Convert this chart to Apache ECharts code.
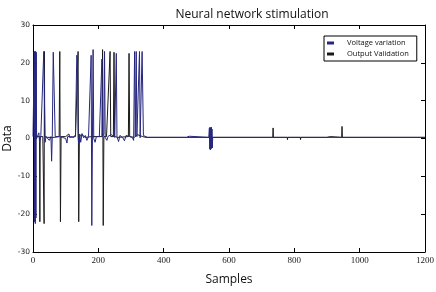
<!DOCTYPE html>
<html>
<head>
<meta charset="utf-8">
<script src="https://cdn.jsdelivr.net/npm/echarts@6/dist/echarts.min.js"></script>
<style>
  html, body { margin: 0; padding: 0; background: #fff; }
  #chart { width: 436px; height: 292px; }
</style>
</head>
<body>
<div id="chart"></div>
<script>
// samples / values
const voltageX = [0, 4, 5, 6, 7, 8, 9, 10, 11, 14, 18, 20, 24, 28, 33, 35, 37, 40, 45, 50, 55, 57, 59, 62, 64, 66, 68,
  72, 80, 90, 95, 100, 104, 106, 115, 120, 125, 130, 134, 136, 138, 140, 143, 146, 150, 155, 160, 165, 170, 174,
  178, 180, 182, 184, 186, 190, 194, 198, 203, 208, 211, 213, 217, 219, 221, 226, 230, 234, 240, 244, 250, 255, 257,
  262, 266, 270, 275, 280, 285, 290, 296, 300, 304, 308, 311, 313, 316, 318, 322, 326, 328, 331, 334, 336, 338, 342,
  350, 400, 470, 478, 483, 538, 540, 541, 542, 543, 544, 545, 546, 547, 548, 549, 550, 600, 800, 1000, 1200];
const voltageY = [0.5, 23, -22, 23, -22.5, 23, -21, 22.8, 0, 0.5, 1.5, -1, 0.8, 1.2, 23, 22.8, -1, 0.5, 0.3, -0.5, 0.5, -6, 0.5, 22.8, 23.2, 22.5, 0.5,
  0.2, 0.5, 0.3, 0.5, 0, -1.2, 0.5, 0.5, 0.8, 0.3, 1, 22, 21, 0.5, -1.5, 1.2, -1, 1.3, 0.2, 0.8, -0.5, 0.6, 0.2,
  22, -23, 0.5, 23.5, 0, -1, 0.5, 1, 0.5, 0.8, 21, 0.5, 1.2, 23, 0.3, -0.5, 0.6, 0.2, 1, 0.5, 0.3, 22.5, 0.5,
  -0.8, 0.8, 1, 0.2, -0.6, 0.8, 0.4, 0.5, 1, 0.3, -0.5, 23, 0.5, 23, 0.5, 1, 23, 0.2, 0.6, 23, 22.5, 0.8, 0.3,
  0.3, 0.3, 0.3, 0.6, 0.3, 0.3, 2.8, -2.8, 3, -3, 2.8, -2.8, 3, -2.5, 2.5, -2.5, 0.3, 0.3, 0.3, 0.3, 0.3];

const outputX = [0, 10, 20, 21, 22, 30, 34, 35, 36, 45, 55, 60, 65, 80, 82, 84, 86, 100, 110, 112, 130, 138, 140, 142,
  150, 160, 180, 211, 213, 215, 217, 225, 236, 238, 246, 248, 250, 260, 292, 294, 296, 310, 320, 336, 345,
  734, 735, 736, 778, 779, 780, 818, 819, 820, 900, 910, 915, 945, 946, 947, 1120, 1122, 1124, 1200];
const outputY = [0.3, 0.5, 0.5, -22, 0.5, 0.5, -22.5, 23, 0.5, 0.3, 0.3, 0.5, 0.3, 0.5, 23, -22, 0.5, 0.5, 1.2, 0.3, 0.5, 23, -22, 0.5,
  1, 0.3, 0.5, 0.5, 23.5, -23, 0.5, 0.5, 23, 0.5, 0.5, 22.8, 0.5, 0.3, 0.5, 22.5, 0.5, 0.3, 1, 0.5, 0.3,
  0.3, 2.8, 0.3, 0.3, -0.3, 0.3, 0.3, -0.3, 0.3, 0.3, 0.5, 0.3, 0.3, 3.2, 0.3, 0.3, 0.8, 0.3, 0.3];

const xTicks = { min: 0, max: 1200, interval: 200 };
const yTicks = { min: -30, max: 30, interval: 10 };

const BLUE = '#26267f';
const BLACK = '#1a1a1a';

const chart = echarts.init(document.getElementById('chart'));

const pairs = (xs, ys) => xs.map((x, i) => [x, ys[i]]);

const edgeAxis = {
  axisLine: { show: true, onZero: false, lineStyle: { color: '#000', width: 1 } },
  axisTick: { show: true, inside: true, length: 4, lineStyle: { color: '#000' } },
  splitLine: { show: false },
};

chart.setOption({
  animation: false,
  title: {
    text: 'Neural network stimulation',
    left: 247,
    textAlign: 'center',
    top: 4,
    textStyle: { fontFamily: 'Open Sans', fontSize: 12, fontWeight: 'normal', color: '#111' },
  },
  grid: { left: 33, right: 11, top: 25, bottom: 40, outerBoundsMode: 'none' },
  legend: {
    left: 324,
    top: 36,
    orient: 'vertical',
    icon: 'rect',
    itemWidth: 7,
    itemHeight: 3,
    itemGap: 3,
    padding: [3, 8, 3, 3],
    borderColor: '#000',
    borderWidth: 1,
    backgroundColor: '#fff',
    textStyle: { fontFamily: 'Open Sans', fontSize: 7.5, color: '#111', padding: [0, 0, 0, 8] },
    data: ['Voltage variation', 'Output Validation'],
  },
  xAxis: [
    {
      type: 'value', ...xTicks, ...edgeAxis,
      name: 'Samples', nameLocation: 'middle', nameGap: 22, nameMoveOverlap: false,
      nameTextStyle: { fontFamily: 'Open Sans', fontSize: 12, color: '#111' },
      axisLabel: { fontFamily: 'Liberation Serif', fontSize: 9, color: '#222', margin: 4, formatter: v => String(v) },
    },
    { type: 'value', position: 'top', ...xTicks, ...edgeAxis, axisLabel: { show: false } },
  ],
  yAxis: [
    {
      type: 'value', ...yTicks, ...edgeAxis,
      name: 'Data', nameLocation: 'middle', nameGap: 19, nameMoveOverlap: false,
      nameTextStyle: { fontFamily: 'Open Sans', fontSize: 12, color: '#111' },
      axisLabel: { fontFamily: 'DejaVu Sans', fontSize: 7.5, color: '#222', margin: 3 },
    },
    { type: 'value', position: 'right', ...yTicks, ...edgeAxis, axisLabel: { show: false } },
  ],
  series: [
    {
      name: 'Voltage variation',
      type: 'line',
      z: 3,
      data: pairs(voltageX, voltageY),
      showSymbol: false,
      lineStyle: { color: BLUE, width: 1 },
      itemStyle: { color: BLUE },
    },
    {
      name: 'Output Validation',
      type: 'line',
      z: 2,
      data: pairs(outputX, outputY),
      showSymbol: false,
      lineStyle: { color: BLACK, width: 1 },
      itemStyle: { color: BLACK },
    },
  ],
});
</script>
</body>
</html>
